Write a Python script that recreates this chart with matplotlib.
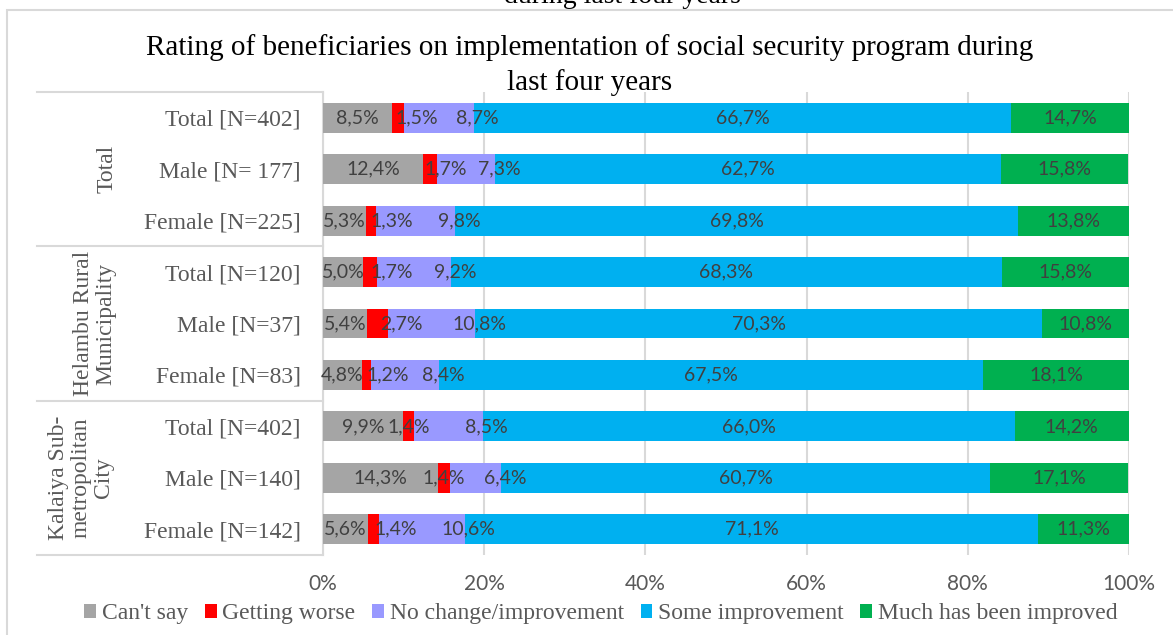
import numpy as np
import matplotlib
matplotlib.use("Agg")
import matplotlib.pyplot as plt
from matplotlib.patches import Patch
from matplotlib.transforms import blended_transform_factory

# Data ###############################################################################
row_labels = ['Total [N=402]', 'Male [N= 177]', 'Female [N=225]',
              'Total [N=120]', 'Male [N=37]', 'Female [N=83]',
              'Total [N=402]', 'Male [N=140]', 'Female [N=142]']
groups = ['Total', 'Helambu Rural\nMunicipality', 'Kalaiya Sub-\nmetropolitan\nCity']
series = ["Can't say", 'Getting worse', 'No change/improvement', 'Some improvement',
          'Much has been improved']

cant_say = [8.5, 12.4, 5.3, 5.0, 5.4, 4.8, 9.9, 14.3, 5.6]
getting_worse = [1.5, 1.7, 1.3, 1.7, 2.7, 1.2, 1.4, 1.4, 1.4]
no_change = [8.7, 7.3, 9.8, 9.2, 10.8, 8.4, 8.5, 6.4, 10.6]
some_impr = [66.7, 62.7, 69.8, 68.3, 70.3, 67.5, 66.0, 60.7, 71.1]
much_impr = [14.7, 15.8, 13.8, 15.8, 10.8, 18.1, 14.2, 17.1, 11.3]

# styling
colors = ['#a5a5a5', '#ff0000', '#9999ff', '#00b0f0', '#00b050']
red_nudge = [2.4, 2.0, 2.6, 2.7, 3.0, 2.6, 0.0, 0.0, 2.7]  # label offsets (%) as in source
SERIF = 'Liberation Serif'
SANS = 'Lato'
GREY_TXT = '#595959'
LINE = '#d9d9d9'

W, H = 1173, 635
fig = plt.figure(figsize=(W / 100, H / 100), dpi=100)

# outer chart frame (partly outside the picture)
fig.patches.append(plt.Rectangle((7 / W, -0.1), 1.2, 1 - 10 / H + 0.1, transform=fig.transFigure,
                                 fill=False, edgecolor=LINE, lw=1.5))

# clipped caption from the page above
fig.text(622 / W, 1 - 3 / H, 'during last four years', family=SERIF, fontsize=20,
         ha='center', va='baseline', color='black')

fig.text(590 / W, 1 - 65 / H,
         'Rating of beneficiaries on implementation of social security program during\nlast four years',
         family=SERIF, fontsize=21, ha='center', va='center', linespacing=1.35, color='black')

ax = fig.add_axes([323 / W, 1 - 555 / H, 806 / W, 463 / H])

data = np.array([cant_say, getting_worse, no_change, some_impr, much_impr])
y = np.arange(len(row_labels))
left = np.zeros(len(row_labels))
for k in range(len(series)):
    ax.barh(y, data[k], left=left, height=0.583, color=colors[k], label=series[k], zorder=3)
    for i in range(len(y)):
        v = data[k][i]
        if k == 1:
            xpos = left[i] + v / 2 + red_nudge[i]
        elif k == 2:
            xpos = left[i] + v + 0.5
        else:
            xpos = left[i] + v / 2
        ax.text(xpos, y[i], f'{v:.1f}%'.replace('.', ','), ha='center', va='center',
                family=SANS, fontsize=14, color='#404040', zorder=5)
    left += data[k]

ax.set_xlim(0, 100)
ax.set_ylim(8.5, -0.5)
ax.set_xticks(np.arange(0, 101, 20))
ax.set_xticklabels([f'{t}%' for t in range(0, 101, 20)], family=SANS, fontsize=15, color=GREY_TXT)
ax.set_yticks(y)
ax.set_yticklabels(row_labels, family=SERIF, fontsize=17, color=GREY_TXT)
ax.tick_params(axis='both', length=0)
ax.tick_params(axis='y', pad=16)
ax.tick_params(axis='x', pad=14)
ax.grid(axis='x', color=LINE, lw=1.5, zorder=0)
for s in ['top', 'right', 'bottom']:
    ax.spines[s].set_visible(False)
ax.spines['left'].set_color(LINE)
ax.spines['left'].set_linewidth(1.5)

# category table lines
for yy in [-0.5, 2.5, 5.5, 8.5]:
    ax.axhline(yy, xmin=-(323 - 37) / 806, xmax=0, color=LINE, lw=1.5, clip_on=False)

trans = blended_transform_factory(ax.transAxes, ax.transData)
group_x = [107, 95, 81]
for g, name in enumerate(groups):
    ax.text((group_x[g] - 323) / 806, 3 * g + 1, name, transform=trans, rotation=90,
            ha='center', va='center', multialignment='center', family=SERIF, fontsize=17,
            color=GREY_TXT, linespacing=1.1)

handles = [Patch(facecolor=c, edgecolor='none') for c in colors]
leg = fig.legend(handles, series, loc='center', bbox_to_anchor=(601 / W, 1 - 614 / H),
                 ncol=5, frameon=False, handlelength=0.5, handleheight=0.5,
                 handletextpad=0.25, columnspacing=0.7,
                 prop={'family': SERIF, 'size': 17})
for t in leg.get_texts():
    t.set_color(GREY_TXT)

fig.savefig('out.png', dpi=100)
